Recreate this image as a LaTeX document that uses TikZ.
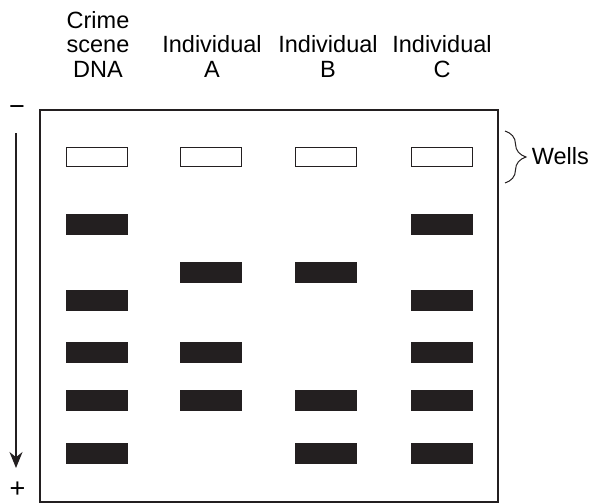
\documentclass[tikz,border=0pt]{standalone}
\usepackage{fontspec}
\setmainfont{Liberation Sans}
\usetikzlibrary{arrows.meta,decorations.pathreplacing}
\definecolor{geltinta}{HTML}{231F20}
\tikzset{
  pozo/.style={draw=geltinta,line width=1.3pt,fill=white,minimum width=61pt,minimum height=19pt,inner sep=0pt},
  banda/.style={fill=geltinta,minimum width=62pt,minimum height=21pt,inner sep=0pt},
  rotulo/.style={align=center,inner sep=0pt,anchor=south,font=\fontsize{23.5}{24.5}\selectfont},
  signo/.style={inner sep=0pt,font=\fontsize{27}{27}\selectfont}
}
\begin{document}
\begin{tikzpicture}[x=1pt,y=-1pt]
\useasboundingbox (0,0) rectangle (611,503);
\pgfsetlinewidth{1.5pt}
% gel
\draw[line width=2pt,draw=geltinta] (40,110) rectangle (498,501.5);
%
% rotulos de los carriles
\node[rotulo] (adn) at (98,78) {Crime\\scene\\DNA};
\node[rotulo] (indA) at (212,78) {Individual\\A};
\node[rotulo] (indB) at (328,78) {Individual\\B};
\node[rotulo] (indC) at (442,78) {Individual\\C};
%
% pozos
\foreach \c/\x in {1/97,2/211,3/326,4/442}
\node[pozo] (pozo\c) at (\x,157) {};
%
% bandas
\foreach \c/\x/\y in {1/97/224,4/442/224,2/211/272,3/326/272,%
1/97/300,4/442/300,1/97/352,2/211/352,4/442/352,%
1/97/400,2/211/400,3/326/400,4/442/400,1/97/453,3/326/453,4/442/453}
\node[banda] (banda\c-\y) at (\x,\y) {};
%
% polos y sentido de la corrida
\node[signo] (menos) at (17,111) {−};
\node[signo] (mas) at (17.5,490) {+};
\coordinate (origen) at (16,133);
\coordinate (destino) at (16,468);
\draw[-{Stealth[length=16pt,width=13pt]},draw=geltinta] (origen) -- (destino);
%
% llave de los pozos
\coordinate (llaveA) at (505,131);
\coordinate (llaveB) at (505,183);
\draw[decorate,decoration={brace,amplitude=21pt},line width=1pt,draw=geltinta] (llaveA) -- (llaveB);
\node[anchor=west,inner sep=0pt,font=\fontsize{23.5}{24.5}\selectfont] (pozos) at (531,156) {Wells};
\end{tikzpicture}
\end{document}
